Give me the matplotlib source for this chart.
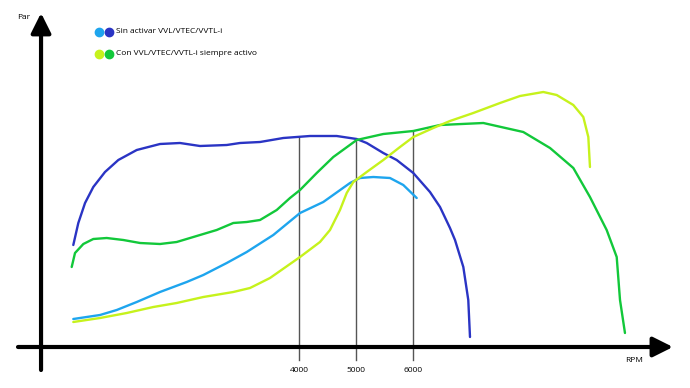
import matplotlib.pyplot as plt

plt.rcParams['font.family'] = ['Open Sans', 'DejaVu Sans']

# Curves: x in RPM, y in arbitrary torque units (Par)
blue_dark_rpm = [40, 128, 246, 391, 596, 830, 1153, 1561, 1912, 2263, 2732, 2965, 3316,
                 3725, 4193, 4661, 5012, 5188, 5479, 5714, 6005, 6298, 6474, 6649,
                 6737, 6883, 6970, 7000]
blue_dark_par = [102, 124, 144, 160, 175, 187, 197, 203, 204, 201, 202, 204, 205,
                 209, 211, 211, 208, 204, 194, 187, 174, 155, 140, 119,
                 107, 80, 47, 10]

blue_light_rpm = [40, 509, 802, 1153, 1561, 2030, 2321, 2732, 3083, 3549, 4018, 4426,
                  4895, 5070, 5304, 5596, 5830, 6065]
blue_light_par = [28, 32, 37, 45, 55, 65, 72, 84, 95, 112, 134, 145,
                  164, 169, 170, 169, 162, 149]

green_rpm = [12, 70, 216, 391, 626, 918, 1211, 1561, 1854, 2263, 2556, 2847, 3083,
             3316, 3609, 3842, 4018, 4311, 4602, 5012, 5479, 6005, 6474, 7234,
             7935, 8404, 8813, 9105, 9398, 9574, 9632, 9719]
green_par = [80, 94, 103, 108, 109, 107, 104, 103, 105, 112, 117, 124, 125,
             127, 137, 149, 157, 174, 190, 207, 213, 216, 222, 224,
             215, 199, 179, 150, 117, 90, 47, 14]

yellow_rpm = [40, 509, 977, 1444, 1854, 2321, 2847, 3140, 3316, 3491, 4018, 4368,
              4544, 4719, 4837, 4953, 5188, 5479, 5772, 6005, 6356, 6649, 7058,
              7527, 7877, 8286, 8521, 8813, 8988, 9076, 9105]
yellow_par = [25, 29, 34, 40, 44, 50, 55, 59, 64, 69, 90, 105,
              117, 137, 154, 165, 175, 187, 200, 210, 219, 226, 234,
              244, 251, 255, 252, 242, 230, 210, 180]

mark_rpm = [4000, 5000, 6000]
mark_labels = ['4000', '5000', '6000']
mark_top = [210, 208, 215]

legend_labels = ['Sin activar VVL/VTEC/VVTL-i', 'Con VVL/VTEC/VVTL-i siempre activo']

c_blue_light = '#1ea5ee'
c_blue_dark = '#2a34c4'
c_yellow = '#c6f21c'
c_green = '#12c83a'

fig = plt.figure(figsize=(6.9, 3.88), dpi=100)
ax = fig.add_axes([0, 0, 1, 1])
ax.set_xlim(-1246, 10860)
ax.set_ylim(-41, 347)
ax.axis('off')

# marker lines at 4000/5000/6000
for r, top, lab in zip(mark_rpm, mark_top, mark_labels):
    ax.plot([r, r], [-13, top], color='#555555', lw=1.0, zorder=1)
    ax.text(r, -23, lab, ha='center', va='center', fontsize=6)

curve_style = dict(lw=1.7, zorder=3, solid_joinstyle='round', solid_capstyle='round')
ax.plot(blue_dark_rpm, blue_dark_par, color=c_blue_dark, **curve_style)
ax.plot(blue_light_rpm, blue_light_par, color=c_blue_light, **curve_style)
ax.plot(green_rpm, green_par, color=c_green, **curve_style)
ax.plot(yellow_rpm, yellow_par, color=c_yellow, **curve_style)

# axes as arrows
arrow = dict(arrowstyle='-|>,head_length=1.0,head_width=0.5', lw=3,
             color='black', mutation_scale=12, shrinkA=0, shrinkB=0)
ax.annotate('', xy=(10561, 0), xytext=(-930, 0), arrowprops=arrow, zorder=5)
ax.annotate('', xy=(-526, 334), xytext=(-526, -23), arrowprops=arrow, zorder=5)

ax.text(0.0348, 0.954, 'Par', transform=ax.transAxes, fontsize=6, ha='center', va='center')
ax.text(0.919, 0.070, 'RPM', transform=ax.transAxes, fontsize=6, ha='center', va='center')

# legend drawn by hand
ax.plot([0.1435], [0.918], 'o', color=c_blue_light, ms=6, transform=ax.transAxes)
ax.plot([0.158], [0.918], 'o', color=c_blue_dark, ms=6, transform=ax.transAxes)
ax.plot([0.1435], [0.862], 'o', color=c_yellow, ms=6, transform=ax.transAxes)
ax.plot([0.158], [0.862], 'o', color=c_green, ms=6, transform=ax.transAxes)
ax.text(0.1677, 0.918, legend_labels[0], transform=ax.transAxes, fontsize=6, va='center')
ax.text(0.1677, 0.862, legend_labels[1], transform=ax.transAxes, fontsize=6, va='center')

fig.savefig('out.png', dpi=100)
